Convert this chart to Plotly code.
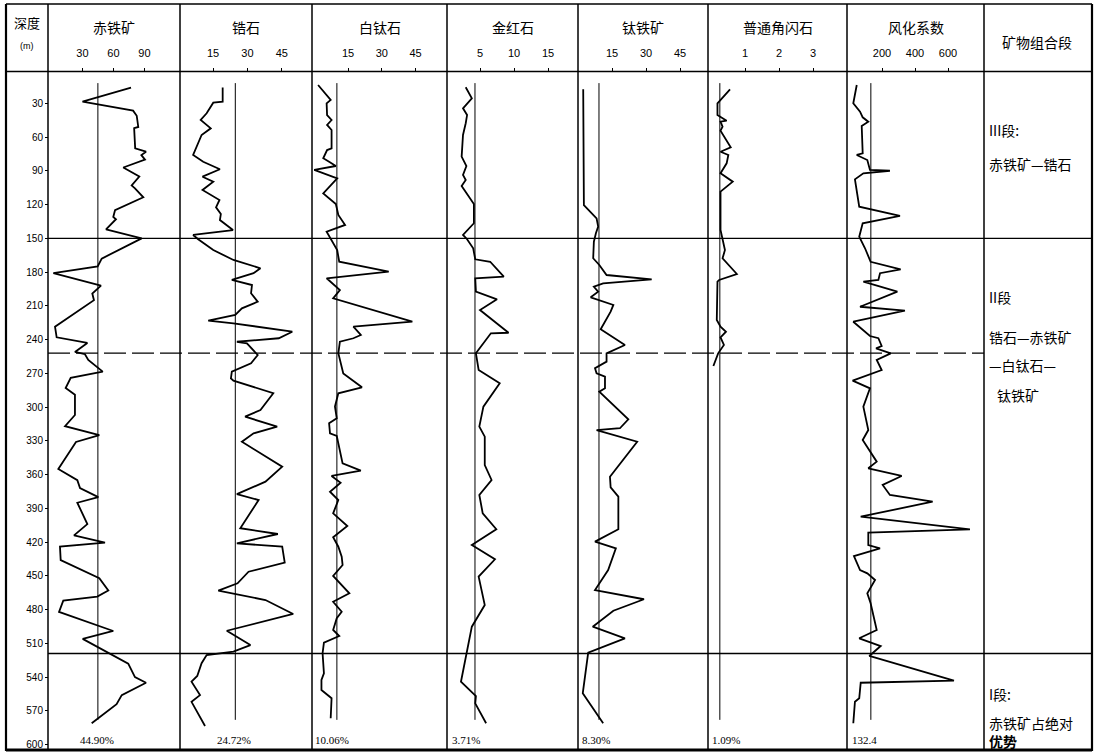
import plotly.graph_objects as go

W, H = 1094, 755

# ---------------- data (depth in m, value in axis units) ----------------
depth_ticks = [30, 60, 90, 120, 150, 180, 210, 240, 270, 300, 330, 360, 390, 420, 450, 480, 510, 540, 570, 600]

titles = ["赤铁矿", "锆石", "白钛石", "金红石", "钛铁矿", "普通角闪石", "风化系数"]
tick_sets = [[30, 60, 90], [15, 30, 45], [15, 30, 45], [5, 10, 15], [15, 30, 45], [1, 2, 3], [200, 400, 600]]
mean_labels = ["44.90%", "24.72%", "10.06%", "3.71%", "8.30%", "1.09%", "132.4"]
mean_values = [44.9, 24.72, 10.06, 4.26, 9.25, 0.26, 132.4]

hem_d = [16, 28.5, 36.5, 41, 51, 52, 70, 73, 76, 80, 87, 95, 103, 105.5, 113.5, 125,
         131, 133, 142, 150, 168, 175, 181, 192, 199, 205, 228.5, 238, 243, 251, 253, 258,
         268.5, 274, 283, 289, 307, 317, 325, 331, 355, 365, 372, 380, 385, 404, 414, 420.5,
         424, 436, 452, 463, 468.5, 472, 482, 499, 506, 513, 528, 540, 545, 556, 564, 581]
hem_v = [77, 30, 79, 82.5, 84, 80, 81, 91.5, 87, 90.5, 69.5, 85, 77.6, 80.8, 88.9, 61.5,
         59.8, 62.4, 52.8, 87.3, 48.6, 44.7, 1.8, 47.9, 39.5, 41.1, 3.4, 5, 34.7, 22.7, 32.4, 35.6,
         49.6, 18.6, 13.7, 22.7, 22.7, 13.1, 46.3, 23.7, 6.6, 25, 27.6, 45.3, 25, 34.7, 21.8, 51.8,
         8.2, 8.9, 46.3, 55, 44.3, 11.4, 7.3, 59.8, 30.2, 43.8, 74.3, 80.8, 91.5, 68, 63, 38.9]

zir_d = [16, 28.5, 29.4, 38.8, 44.8, 52.2, 58.1, 71.5, 75.9, 81.9, 88.6, 95.2, 99.6, 107, 115.9, 122.4,
         128.4, 133.7, 142.6, 147, 150.8, 160.4, 169.2, 176.6, 181, 187, 191.5, 198.8, 206.3, 212.2, 218.1, 223.2,
         225.5, 233, 238.8, 241.9, 243.3, 253.7, 261.1, 268.5, 274.4, 276.5, 287.7, 302.6, 308.5, 317.4, 323.3, 330.8,
         353, 366.3, 377.3, 382.6, 394.4, 407.7, 412.8, 421.1, 424.1, 438.3, 446.3, 456.6, 463.2, 471.5, 483.9, 495.8,
         498.8, 511.5, 517.4, 520.4, 527.7, 539, 544.1, 556, 562, 583.5]
zir_v = [19.2, 19.2, 15.1, 12.2, 9.6, 14, 10, 7, 6.3, 10.7, 18, 10.4, 15.1, 10.4, 17.8, 16.3,
         18.4, 18, 23.7, 6.3, 8.5, 15.1, 23.9, 35.7, 32.7, 23.2, 32, 31.6, 34.5, 27.6, 24.7, 12.9,
         23.9, 49.6, 43.7, 25.4, 29.8, 34.5, 31.6, 23.2, 22.8, 23.9, 41.3, 35.7, 29, 43, 32.7, 27.6,
         45.2, 37.9, 25.4, 34.9, 31, 26.9, 43.3, 25.4, 45.2, 46.3, 30.5, 25.7, 17.3, 37.9, 50, 26.9,
         21, 31.3, 23.9, 12.2, 10, 8.1, 5.6, 9.3, 5.6, 11.5]

leu_d = [13.7, 27, 30, 40.4, 44.8, 49.2, 53.7, 70, 71.5, 78.8, 81.9, 85.7, 89.2, 96.6, 110, 119.5,
         129.2, 138.1, 144.1, 151.5, 160.4, 170.8, 179.6, 185.5, 195.9, 203.3, 224.1, 228.5, 235.9, 238.8, 241.9, 252.2,
         270, 282.4, 287.7, 299.6, 310, 314.4, 323.3, 325.7, 350, 356.5, 361.2, 367.2, 375.2, 382.6, 394.4, 405.7,
         415.7, 424.1, 433, 440.4, 450.1, 465.5, 473, 481.9, 487.7, 498.1, 503.5, 509.4, 518.8, 536.6, 542.6, 551.5,
         558.8, 576.6]
leu_v = [1.7, 7.3, 5.5, 5.7, 7.7, 5.7, 7.7, 7.7, 5.7, 4, 6.6, 9.6, 0, 10.2, 4, 9.6,
         10.7, 13.7, 5.5, 7.7, 10.2, 11.1, 33.1, 5.5, 11.4, 8.4, 43.6, 17.4, 20.7, 17.4, 11.4, 10.7,
         12.9, 21.2, 10.7, 9.2, 10, 6.6, 7, 10, 12.6, 20.7, 7.7, 11.7, 7, 10.7, 8.4, 14.7,
         8.4, 10.7, 12.2, 12.6, 8.4, 15.6, 8.4, 12.2, 10, 8.4, 11.1, 4.3, 3.7, 4.3, 3.2, 3.2,
         7.7, 7.3]

rut_d = [15.7, 25.5, 34.4, 40.4, 47.7, 58.1, 77.4, 85.7, 93.7, 98.1, 103.5, 119.5, 136.6, 147, 150.8, 158.9,
         168.6, 170.8, 184.1, 185.5, 197.4, 204.2, 213.7, 233.9, 234.4, 252.2, 267, 278.9, 299.6, 317.4, 326.3, 351.5,
         364.8, 378.1, 394.4, 408.6, 422.6, 435.3, 450.7, 475.9, 495.2, 518.8, 544.1, 556.8, 563.3, 581]
rut_v = [2.9, 3.8, 2.5, 3.1, 2.9, 2.5, 2.3, 3, 2.5, 2.9, 2.3, 4.1, 4.1, 2.5, 3.1, 4,
         4.3, 6.5, 8.5, 4.3, 4.4, 7.5, 5, 9.2, 6.6, 4.4, 4.8, 7.9, 5.5, 4.9, 5.7, 5.7,
         6.7, 4.9, 5.4, 7.4, 3.8, 7.2, 4.8, 5.7, 3.8, 3, 2.2, 4.4, 4.3, 5.9]

ilm_d = [17.5, 120.4, 132.2, 139.6, 145.5, 153, 167.7, 173.7, 182.6, 186.4, 190, 193, 197.4, 202.4, 209.2, 215.2,
         230.8, 244.8, 252.2, 259.6, 265.5, 270, 273, 283.3, 286.3, 310.8, 318.8, 320.4, 330.8, 361.9, 371.3, 379.6,
         408.6, 419.6, 425.5, 444.8, 462.6, 470.8, 481, 495.2, 505.5, 518.3, 554.4, 581]
ilm_v = [2.3, 2.6, 8.2, 8.9, 7.9, 7, 6.7, 9.4, 12.6, 32.5, 11.1, 7, 8.9, 5.6, 15.6, 14.4,
         10, 20.7, 12.6, 12.6, 7.5, 8.2, 11.9, 11.9, 9.4, 22.2, 18.5, 8.2, 26.1, 14.1, 14.4, 17.8,
         17.8, 7.5, 16.7, 13.3, 7.5, 29.1, 15.6, 6.5, 20.7, 4.5, 2.1, 11.1]

hor_d = [17.5, 26.4, 30, 40.4, 45.4, 46.3, 50.8, 54.3, 69.1, 73, 75.9, 83.3, 92.2, 99.6, 108.5, 142.6,
         147, 160.4, 167.7, 181.7, 187, 188.5, 222.6, 228.5, 233, 238, 244.8, 252.2, 263.5]
hor_v = [0.56, 0.28, 0.19, 0.19, 0.46, 0.28, 0.34, 0.28, 0.58, 0.28, 0.51, 0.46, 0.28, 0.64, 0.28, 0.28,
         0.31, 0.41, 0.34, 0.76, 0.24, 0.19, 0.17, 0.28, 0.44, 0.28, 0.38, 0.21, 0.07]

wea_d = [13.7, 30, 37.4, 42.4, 46.3, 50.1, 74.4, 75.9, 80.4, 89.2, 89.9, 92.2, 97.5, 108.5, 121.9, 130.1,
         136.6, 148.5, 158.8, 170.8, 177.5, 181, 187, 188.5, 197.4, 210.8, 214.3, 224.1, 236.8, 238.8, 245.7, 247.8,
         252.2, 258.1, 267, 276.5, 281.9, 283.3, 299.6, 320.4, 329.2, 348.5, 354.4, 361.2, 369.2, 378.1, 384.1, 397.4,
         408.6, 411.6, 422.6, 425.5, 432.4, 444.8, 447.8, 453.7, 465.5, 474.4, 498.1, 505.5, 512.4, 521.2, 543.2, 545,
         558.8, 561.9, 581]
wea_v = [47, 26, 67, 83, 117, 77, 83, 47, 111, 127, 248, 87, 36, 47, 62, 309,
         83, 62, 97, 131, 313, 188, 178, 87, 293, 67, 339, 26, 127, 178, 198, 164,
         253, 168, 198, 22, 111, 127, 87, 117, 83, 168, 117, 319, 204, 248, 507, 71,
         733, 117, 117, 188, 30, 67, 111, 158, 111, 131, 168, 62, 192, 123, 636, 71,
         62, 36, 26]

zone_depths = [150, 252, 519]
zone_labels = [
    ("III段:", 130), ("赤铁矿—锆石", 164),
    ("II段", 297), ("锆石—赤铁矿", 337), ("—白钛石—", 365), ("钛铁矿", 395),
    ("I段:", 694), ("赤铁矿占绝对", 723), ("优势", 741),
]

series_d = [hem_d, zir_d, leu_d, rut_d, ilm_d, hor_d, wea_d]
series_v = [hem_v, zir_v, leu_v, rut_v, ilm_v, hor_v, wea_v]

# ---------------- layout geometry (pixels) ----------------
col_edges = [6, 48, 180, 312, 447, 578, 708, 847, 984, 1092]
scale_p0 = [51.5, 178.7, 314.25, 446, 578, 711, 849]
scale_k = [1.033, 2.29, 2.25, 6.8, 2.267, 34.0, 0.165]
Y_TOP, Y_BOT = 71.5, 750.0
D0_PX, PX_PER_M = 69.6, 1.125

NUM_FONT = "Liberation Sans Narrow, Liberation Sans, Arial"
CJK_FONT = "Noto Sans CJK SC"


def px(x):
    return x / W


def py(y):
    return 1 - y / H


fig = go.Figure()
layout = dict(
    width=W, height=H, margin=dict(l=0, r=0, t=0, b=0),
    paper_bgcolor="white", plot_bgcolor="white", showlegend=False,
)

layout["yaxis"] = dict(
    domain=[py(Y_BOT), py(Y_TOP)],
    range=[(Y_BOT - D0_PX) / PX_PER_M, (Y_TOP - D0_PX) / PX_PER_M],
    anchor="free", position=px(col_edges[1]), side="left",
    tickvals=depth_ticks, ticktext=[str(t) for t in depth_ticks],
    ticks="outside", ticklen=3, tickcolor="black",
    tickfont=dict(family=NUM_FONT, size=10, color="black"),
    showgrid=False, zeroline=False, showline=False,
)

shapes = []
annotations = []


def add_text(text, x, y, size, family=CJK_FONT, xanchor="center"):
    annotations.append(dict(text=text, xref="paper", yref="paper",
                            x=px(x), y=py(y), showarrow=False,
                            xanchor=xanchor, yanchor="middle",
                            font=dict(family=family, size=size, color="black")))


for i in range(7):
    L, R = col_edges[i + 1], col_edges[i + 2]
    p0, k = scale_p0[i], scale_k[i]
    ax_name = "xaxis" if i == 0 else f"xaxis{i + 1}"
    ref = "x" if i == 0 else f"x{i + 1}"
    layout[ax_name] = dict(
        domain=[px(L), px(R)],
        range=[(L - p0) / k, (R - p0) / k],
        anchor="y", side="top",
        tickvals=tick_sets[i], ticktext=[str(t) for t in tick_sets[i]],
        ticks="outside", ticklen=3, tickcolor="black",
        ticklabelstandoff=6,
        tickfont=dict(family=NUM_FONT, size=11, color="black"),
        showgrid=False, zeroline=False, showline=False,
    )
    fig.add_trace(go.Scatter(
        x=series_v[i], y=series_d[i], xaxis=ref, yaxis="y",
        mode="lines", line=dict(color="black", width=1.8),
        hoverinfo="skip",
    ))
    shapes.append(dict(type="line", xref=ref, yref="y",
                       x0=mean_values[i], x1=mean_values[i], y0=12, y1=578,
                       line=dict(color="black", width=1)))
    add_text(titles[i], (L + R) / 2, 27, 14)

label_left = [78, 215, 313, 450, 580, 710, 850]
for i in range(7):
    add_text(mean_labels[i], label_left[i], 740, 11, family="Liberation Serif", xanchor="left")

add_text("深度", 27, 22, 13)
add_text("(m)", 27, 46, 9, family=NUM_FONT)
add_text("矿物组合段", 1037, 42, 14)

for txt, yy in zone_labels:
    xx = 995 if txt == "钛铁矿" else 987
    add_text(("<b>%s</b>" % txt) if txt == "优势" else txt, xx, yy, 14, xanchor="left")

for j, xe in enumerate(col_edges):
    w = 2.2 if j in (0, len(col_edges) - 1) else 1.5
    shapes.append(dict(type="line", xref="paper", yref="paper",
                       x0=px(xe), x1=px(xe), y0=py(4), y1=py(751),
                       line=dict(color="black", width=w)))
shapes.append(dict(type="line", xref="paper", yref="paper", x0=px(6), x1=px(1092),
                   y0=py(4), y1=py(4), line=dict(color="black", width=1.5)))
shapes.append(dict(type="line", xref="paper", yref="paper", x0=px(6), x1=px(1092),
                   y0=py(71.5), y1=py(71.5), line=dict(color="black", width=1.5)))
shapes.append(dict(type="line", xref="paper", yref="paper", x0=px(6), x1=px(1092),
                   y0=py(750), y1=py(750), line=dict(color="black", width=3)))

for zd in zone_depths:
    dashed = zd == 252
    shapes.append(dict(type="line", xref="paper", yref="y",
                       x0=px(col_edges[1]), x1=px(col_edges[8] if dashed else col_edges[9]),
                       y0=zd, y1=zd,
                       line=dict(color="black", width=1.3,
                                 dash="22px,6px" if dashed else "solid")))

layout["shapes"] = shapes
layout["annotations"] = annotations
fig.update_layout(**layout)
fig.write_html("out.html",
               config={"displayModeBar": False},
               post_script="document.body.style.margin='0';document.body.style.overflow='hidden';")
